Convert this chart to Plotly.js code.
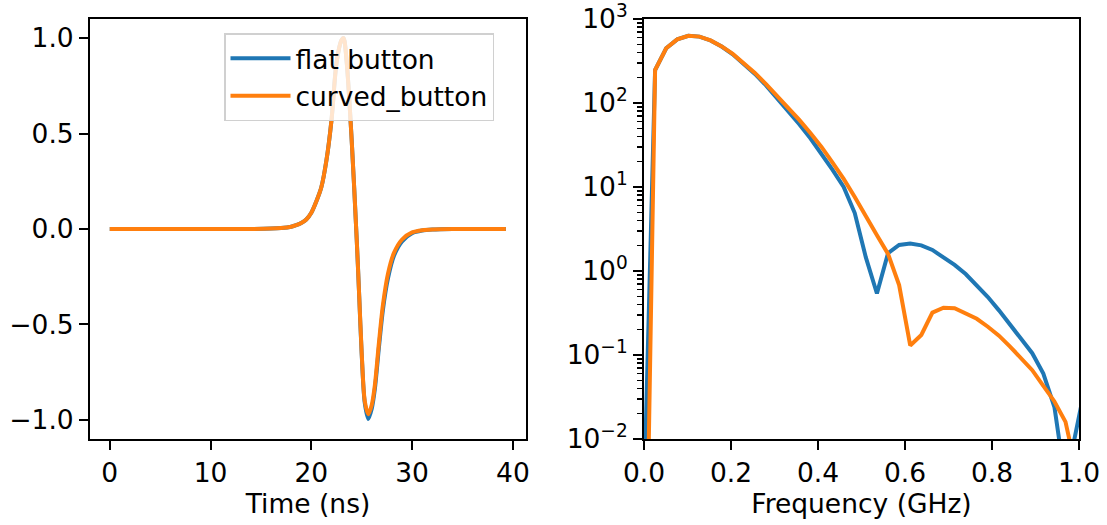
<!DOCTYPE html>
<html>
<head>
<meta charset="utf-8">
<script src="https://cdn.plot.ly/plotly-3.0.1.min.js"></script>
<style>
  html, body { margin: 0; padding: 0; background: #ffffff; }
  #chart { width: 1107px; height: 525px; }
</style>
</head>
<body>
<div id="chart"></div>
<script>
// ---- Time-domain data (ns) ----
const timeNs = [0, 5, 10, 14, 16, 17, 18, 18.5, 19, 19.5, 20, 20.5, 21, 21.5, 22, 22.5, 23, 23.2, 23.5, 24, 24.5, 24.75, 25, 25.3, 25.65, 26, 26.3, 26.7, 27.1, 27.6, 28.2, 29, 30, 31, 32, 34, 37, 39.3];
const flatPulse = [0, 0, 0, 0, 0.002, 0.005, 0.012, 0.02, 0.032, 0.05, 0.085, 0.145, 0.22, 0.36, 0.57, 0.87, 0.99, 1.0, 0.88, 0.47, -0.05, -0.35, -0.66, -0.91, -0.995, -0.94, -0.84, -0.625, -0.425, -0.26, -0.14, -0.065, -0.022, -0.008, -0.003, 0, 0, 0];
const curvedPulse = [0, 0, 0, 0, 0.002, 0.005, 0.012, 0.02, 0.032, 0.05, 0.085, 0.145, 0.22, 0.36, 0.57, 0.87, 0.99, 1.0, 0.88, 0.47, -0.05, -0.35, -0.65, -0.9, -0.97, -0.92, -0.82, -0.6, -0.4, -0.235, -0.125, -0.055, -0.018, -0.006, -0.002, 0, 0, 0];

// ---- Frequency-domain data (GHz) ----
const freqGHz = [0, 0.0255, 0.051, 0.0765, 0.102, 0.1275, 0.153, 0.1785, 0.204, 0.2295, 0.255, 0.2805, 0.306, 0.3315, 0.357, 0.3825, 0.408, 0.4335, 0.459, 0.4845, 0.51, 0.5355, 0.561, 0.5865, 0.612, 0.6375, 0.663, 0.6885, 0.714, 0.7395, 0.765, 0.7905, 0.816, 0.8415, 0.867, 0.8925, 0.918, 0.9435, 0.969, 0.9945, 1.02];
const flatSpectrum = [0.002, 247, 448, 573, 632, 617, 555, 470, 380, 295, 222, 162, 115, 82, 56, 38, 25, 16, 10, 4.9, 1.45, 0.54, 1.63, 2.04, 2.13, 2.02, 1.78, 1.46, 1.18, 0.92, 0.68, 0.49, 0.34, 0.23, 0.16, 0.105, 0.06, 0.024, 0.003, 0.013, 0.06];
const curvedSpectrum = [0.000004, 247, 448, 573, 632, 617, 556, 472, 384, 300, 228, 168, 122, 88, 63, 44, 30, 19.5, 12.5, 7.6, 4.4, 2.66, 1.6, 0.68, 0.13, 0.173, 0.32, 0.366, 0.36, 0.31, 0.27, 0.217, 0.17, 0.126, 0.092, 0.066, 0.043, 0.028, 0.016, 0.004, 0.003];

// ---- Tick labels ----
const timeTicks = [0, 10, 20, 30, 40];
const pulseTicks = [-1.0, -0.5, 0.0, 0.5, 1.0];
const pulseTickText = ['\u22121.0', '\u22120.5', '0.0', '0.5', '1.0'];
const freqTicks = [0.0, 0.2, 0.4, 0.6, 0.8, 1.0];
const freqTickText = ['0.0', '0.2', '0.4', '0.6', '0.8', '1.0'];
const specTicks = [0.01, 0.1, 1, 10, 100, 1000];
const specTickText = ['10<sup>\u22122</sup>', '10<sup>\u22121</sup>', '10<sup>0</sup>', '10<sup>1</sup>', '10<sup>2</sup>', '10<sup>3</sup>'];
const seriesNames = ['flat button', 'curved_button'];

const minorLog = [];
for (let e = -2; e < 3; e++) {
  for (let m = 2; m <= 9; m++) minorLog.push(m * Math.pow(10, e));
}

const BLUE = '#1f77b4', ORANGE = '#ff7f0e';
const FONT = 'DejaVu Sans, sans-serif';
const FS = 26.5;

const traces = [
  { x: timeNs, y: flatPulse, name: seriesNames[0], type: 'scatter', mode: 'lines',
    line: { color: BLUE, width: 4, shape: 'spline', smoothing: 0.8 }, xaxis: 'x', yaxis: 'y' },
  { x: timeNs, y: curvedPulse, name: seriesNames[1], type: 'scatter', mode: 'lines',
    line: { color: ORANGE, width: 4, shape: 'spline', smoothing: 0.8 }, xaxis: 'x', yaxis: 'y' },
  { x: freqGHz, y: flatSpectrum, name: seriesNames[0], type: 'scatter', mode: 'lines', showlegend: false,
    line: { color: BLUE, width: 4 }, xaxis: 'x2', yaxis: 'y2' },
  { x: freqGHz, y: curvedSpectrum, name: seriesNames[1], type: 'scatter', mode: 'lines', showlegend: false,
    line: { color: ORANGE, width: 4 }, xaxis: 'x2', yaxis: 'y2' }
];

const axisCommon = {
  showgrid: false, zeroline: false, showline: true, mirror: true,
  linecolor: '#000', linewidth: 2, ticks: 'outside', ticklen: 9, tickwidth: 2,
  tickcolor: '#000', tickfont: { family: FONT, size: FS, color: '#000' }
};

const layout = {
  width: 1107, height: 525,
  paper_bgcolor: '#fff', plot_bgcolor: '#fff',
  margin: { l: 90, r: 28, t: 19, b: 86 },
  font: { family: FONT, size: FS, color: '#000' },
  showlegend: true,
  legend: {
    x: (224 - 90) / 989, y: 1 - (33 - 19) / 420, xanchor: 'left', yanchor: 'top',
    bgcolor: 'rgba(255,255,255,0.8)', bordercolor: '#d0d0d0', borderwidth: 1.5,
    font: { family: FONT, size: FS, color: '#000' }, itemwidth: 60, entrywidth: 215
  },
  xaxis: Object.assign({}, axisCommon, {
    domain: [0, 436 / 989], range: [-1.96, 41.3],
    tickmode: 'array', tickvals: timeTicks, ticktext: timeTicks.map(String),
    title: { text: 'Time (ns)', font: { family: FONT, size: FS, color: '#000' }, standoff: 6 },
    anchor: 'y'
  }),
  yaxis: Object.assign({}, axisCommon, {
    domain: [0, 1], range: [-1.1, 1.1],
    tickmode: 'array', tickvals: pulseTicks, ticktext: pulseTickText,
    anchor: 'x'
  }),
  xaxis2: Object.assign({}, axisCommon, {
    domain: [(644 - 90) / 989, 1], range: [0, 1],
    tickmode: 'array', tickvals: freqTicks, ticktext: freqTickText,
    title: { text: 'Frequency (GHz)', font: { family: FONT, size: FS, color: '#000' }, standoff: 6 },
    anchor: 'y2'
  }),
  yaxis2: Object.assign({}, axisCommon, {
    domain: [0, 1], type: 'log', range: [-2, 3],
    tickmode: 'array', tickvals: specTicks, ticktext: specTickText,
    minor: { tickmode: 'array', tickvals: minorLog, ticks: 'outside', ticklen: 5, tickwidth: 1.5, tickcolor: '#000', showgrid: false },
    anchor: 'x2'
  })
};

Plotly.newPlot('chart', traces, layout, { displayModeBar: false, staticPlot: true });
</script>
</body>
</html>
